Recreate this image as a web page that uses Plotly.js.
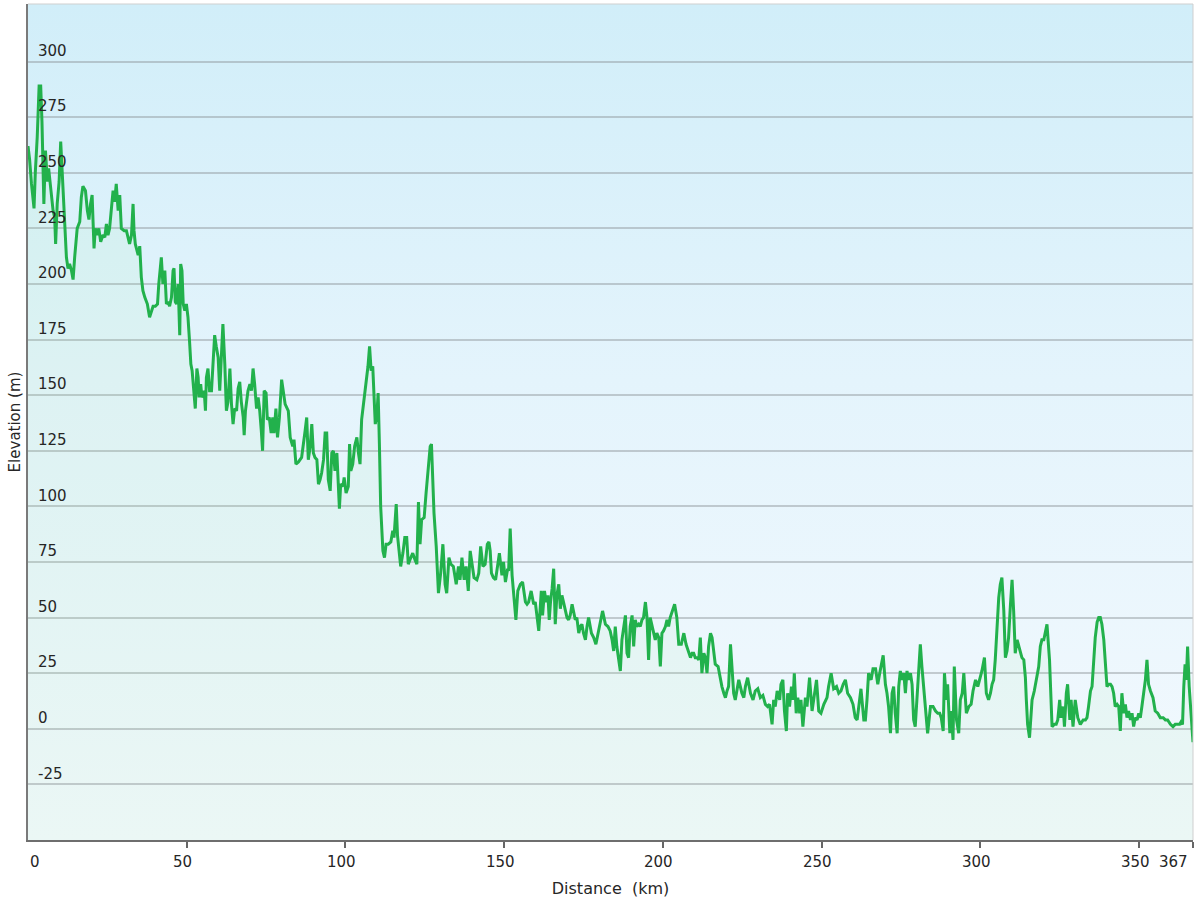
<!DOCTYPE html>
<html>
<head>
<meta charset="utf-8">
<script src="https://cdn.plot.ly/plotly-3.0.1.min.js"></script>
<style>
  html, body { margin: 0; padding: 0; background: #ffffff; }
  #wrap { position: relative; width: 1200px; height: 900px; }
  #bg { position: absolute; left: 28px; top: 4px; width: 1165px; height: 836px;
        background: linear-gradient(to bottom, #d1eef9 0%, #e4f4fc 45%, #f3f9fe 100%); }
  #chart { position: absolute; left: 0; top: 0; width: 1200px; height: 900px; }
</style>
</head>
<body>
<div id="wrap"><div id="bg"></div><div id="chart"></div></div>
<script>
// ---- data ----
const distanceKm = [
0,0.5,1.1,1.9,2.3,2.9,3.5,4.0,4.4,4.7,5.0,5.5,6.1,6.5,7.1,7.9,8.4,8.7,9.2,9.8,10.3,10.7,11.1,11.6,12.1,12.6,13.1,13.7,14.2,14.7,15.5,16.3,16.8,17.3,18.1,18.7,19.2,19.7,20.2,20.5,20.8,21.2,21.7,22.3,22.9,23.6,24.2,24.7,25.2,25.7,26.3,26.8,27.3,27.8,28.4,28.9,29.4,30.3,31.0,31.5,32.0,32.6,33.1,33.4,33.8,34.7,35.2,35.7,36.2,36.8,37.6,38.3,38.9,39.4,40.1,40.8,41.2,41.6,42.0,42.5,43.1,43.6,44.1,44.6,45.2,45.7,46.0,46.4,46.8,47.3,47.8,48.1,48.5,48.9,49.4,49.9,50.4,50.9,51.3,51.7,52.3,52.7,53.2,53.6,53.9,54.4,54.8,55.5,55.9,56.2,56.7,57.2,57.8,58.3,58.8,59.3,59.9,60.4,60.9,61.4,62.0,62.5,63.0,63.6,64.1,64.6,65.1,65.7,66.2,66.7,67.2,67.8,68.1,68.5,69.3,69.9,70.4,70.9,71.4,72.0,72.5,73.0,73.5,73.9,74.4,75.0,75.4,76.0,76.6,77.1,77.5,78.1,78.6,79.2,79.9,80.5,81.0,82.0,82.6,83.4,83.8,84.4,85.2,86.2,86.8,87.3,87.8,88.3,88.9,89.4,89.9,90.4,91.0,91.5,92.0,92.5,93.1,93.6,94.1,94.6,95.2,95.7,96.2,96.7,97.3,97.8,98.1,98.5,99.2,99.6,100.2,100.9,101.3,101.7,102.3,102.9,103.6,104.1,104.6,105.1,105.7,106.5,107.1,107.6,108.1,108.6,109.0,109.4,109.9,110.3,110.7,111.1,111.8,112.3,112.8,113.5,114.3,114.9,115.3,116.0,116.4,117.0,117.4,118.1,118.7,119.3,119.8,120.6,121.2,121.9,122.5,123.0,123.5,124.0,124.8,125.4,126.0,126.7,127.1,127.5,127.9,128.6,129.3,130.0,130.7,131.4,131.9,132.6,133.2,134.0,134.9,135.6,136.1,136.7,137.4,138.0,138.7,139.3,139.9,140.5,141.4,142.0,142.6,143.3,144.0,144.7,145.2,145.6,146.0,146.6,147.3,147.9,148.5,149.3,149.8,150.4,151.1,151.4,151.9,152.5,153.0,153.7,154.3,155.1,155.8,156.7,157.2,157.7,158.5,159.3,159.8,160.3,160.9,161.7,162.1,162.7,163.2,163.8,164.2,164.6,165.1,165.6,166.1,166.6,167.2,167.7,168.2,168.7,169.3,169.8,170.3,170.8,171.4,171.9,172.4,172.9,173.5,174.0,174.5,175.0,175.6,176.1,176.6,177.5,178.2,178.9,179.6,180.3,181.0,181.9,182.7,183.4,184.0,184.5,185.0,185.5,186.1,186.6,187.1,187.6,188.2,188.7,189.2,189.7,190.3,190.8,191.3,191.8,192.4,192.9,193.4,193.9,194.5,195.0,195.5,196.0,196.6,197.1,197.6,198.1,198.7,199.2,199.7,200.2,200.8,201.3,201.8,202.3,202.9,203.7,204.4,205.0,205.8,206.6,207.3,207.9,208.7,209.2,209.7,210.2,210.8,211.3,211.8,212.3,212.9,213.4,213.9,214.4,215.0,215.5,216.0,216.5,217.4,218.1,218.6,219.2,219.7,220.2,220.7,221.3,221.8,222.3,222.8,223.9,224.9,225.5,226.0,226.7,227.6,228.4,229.1,229.9,230.7,231.5,232.3,233.0,233.6,234.4,234.9,235.4,236.0,236.8,237.2,237.8,238.3,238.9,239.3,239.9,240.5,241.0,241.4,242.0,242.5,243.1,243.5,244.1,244.9,245.4,246.2,247.0,247.5,248.4,249.1,249.8,250.7,251.2,251.7,252.2,253.0,253.8,254.7,255.4,256.1,256.8,257.5,258.2,259.1,259.9,260.6,261.2,261.7,262.4,263.3,263.8,264.3,264.8,265.6,266.2,267.0,267.7,268.3,268.7,269.4,270.1,270.6,271.1,271.7,272.2,272.7,273.2,273.8,274.3,274.8,275.3,275.9,276.4,276.9,277.4,278.0,278.5,279.0,279.5,280.1,280.6,281.1,281.6,282.2,282.7,283.4,284.3,285.1,285.9,286.6,287.2,287.7,288.3,288.7,289.3,289.7,290.4,290.8,291.4,291.8,292.5,293.2,293.7,294.3,294.8,295.6,296.4,297.1,297.7,298.5,299.2,299.8,300.5,301.3,301.9,302.6,303.2,303.7,304.2,304.7,305.3,305.8,306.3,306.8,307.4,307.9,308.4,308.9,309.5,310.0,310.5,311.0,311.6,312.4,313.1,313.7,314.2,314.5,314.9,315.5,316.3,317.0,317.6,318.4,318.9,319.4,320.0,320.5,321.0,321.8,322.6,323.3,323.9,324.4,325.0,325.4,326.1,326.5,327.1,327.5,328.2,328.6,329.2,329.9,330.7,331.5,332.4,333.1,333.6,334.1,334.7,335.2,335.7,336.2,336.8,337.3,337.8,338.3,338.9,339.4,339.9,340.4,341.0,341.5,342.0,342.5,343.1,343.6,344.1,344.6,345.2,345.7,346.2,346.7,347.3,347.8,348.3,348.8,349.4,349.9,350.4,350.9,351.5,352.0,352.5,353.0,353.6,354.4,355.1,355.9,356.7,357.6,358.3,359.0,359.9,360.7,361.4,362.2,362.8,363.2,363.7,364.1,364.5,364.9,365.3,365.8,366.2,366.6,367.0
];
const elevationM = [
262,256,245,234,250,266,289,289,273,250,236,260,246,252,243,233,230,218,236,246,264,253,236,224,212,207,209,206,202,212,225,228,239,244,242,233,229,236,240,228,216,225,222,225,219,222,221,227,222,225,236,242,237,245,233,240,225,224,224,221,218,222,236,224,218,213,217,203,197,194,191,185,188,190,190,191,200,206,212,200,206,191,192,190,194,206,207,192,191,200,177,209,206,191,188,191,185,174,164,161,152,144,162,158,149,155,149,152,143,158,162,152,152,167,177,172,167,152,167,182,164,143,147,162,146,137,144,143,153,156,147,140,132,143,152,155,152,162,155,144,149,143,134,125,152,151,139,140,133,140,133,144,131,140,157,151,146,143,131,127,130,119,120,122,130,134,140,121,127,137,124,122,121,110,112,115,121,133,133,112,107,124,125,116,124,106,99,110,109,113,106,109,128,116,119,127,131,124,119,139,146,154,163,172,161,163,146,137,141,151,128,100,80,77,83,83,84,89,86,101,87,80,73,79,86,86,74,77,79,76,74,102,83,94,95,106,116,127,128,115,97,82,61,70,83,65,61,77,74,73,65,73,67,77,67,73,62,80,73,68,67,70,82,73,74,83,84,80,70,68,67,74,79,69,75,66,72,71,90,69,60,49,62,65,66,57,56,57,62,56,57,51,44,62,51,62,57,60,49,57,63,72,47,60,65,54,60,57,53,50,49,51,56,53,49,50,43,46,47,43,40,46,50,43,41,38,43,47,53,47,46,44,40,35,46,37,31,26,40,46,51,34,32,46,51,37,49,46,47,46,49,50,57,50,31,50,46,43,40,43,41,28,43,44,46,49,46,50,53,56,50,38,38,43,38,35,32,34,34,32,32,31,41,25,34,32,25,37,43,41,34,29,28,22,19,16,14,17,19,38,25,16,13,22,16,14,19,23,16,13,17,18,14,15,11,10,11,2,13,10,17,13,20,22,8,-1,16,10,19,13,25,7,14,7,13,1,14,10,23,8,13,22,8,7,11,13,14,19,25,18,19,16,17,20,22,16,14,11,5,4,11,18,4,4,13,25,22,27,27,20,25,28,33,20,16,10,-2,16,19,7,-2,19,26,22,25,16,26,22,25,20,4,1,14,23,38,28,19,11,-2,10,10,8,7,7,5,-1,25,13,20,-2,8,-5,28,4,-2,13,16,25,7,10,11,17,22,19,22,26,32,16,13,16,20,22,31,46,59,65,68,53,32,35,41,56,67,53,34,40,35,32,31,23,13,2,-4,13,17,22,28,37,40,40,44,47,31,1,2,2,4,13,5,10,1,16,20,4,13,1,13,5,2,4,4,5,10,17,19,31,41,48,50,50,47,40,31,19,20,20,19,16,10,11,10,-1,16,7,11,5,8,4,7,1,5,4,7,5,10,16,22,31,20,17,14,8,7,5,5,4,4,2,1,2,2,2,3,2,19,29,22,37,19,10,-2,-6,13,23
];
const xTickVals = [0, 50, 100, 150, 200, 250, 300, 350, 367];
const xTickText = ['0', '50', '100', '150', '200', '250', '300', '350', '367'];
const yTickVals = [-25, 0, 25, 50, 75, 100, 125, 150, 175, 200, 225, 250, 275, 300];
const yTickText = ['-25', '0', '25', '50', '75', '100', '125', '150', '175', '200', '225', '250', '275', '300'];
const yRange = [-50, 325.9];
const xRange = [0, 367];

const font = "DejaVu Sans, Verdana, sans-serif";
const textColor = '#262626';

const trace = {
  type: 'scatter', mode: 'lines',
  x: distanceKm, y: elevationM,
  line: { color: '#22b14c', width: 3 },
  fill: 'tozeroy', fillcolor: 'rgba(140,235,140,0.08)',
  hoverinfo: 'x+y'
};

const xAnn = xTickVals.map((v, i) => ({
  x: v, xref: 'x', y: 0, yref: 'paper', yanchor: 'top', yshift: -11,
  xanchor: i === 0 ? 'left' : (i === xTickVals.length - 1 ? 'right' : 'center'),
  xshift: i === 0 ? 0 : (i === xTickVals.length - 1 ? -3 : -4),
  text: xTickText[i], showarrow: false,
  font: { family: font, size: 15, color: textColor }
}));

const layout = {
  width: 1200, height: 900,
  margin: { l: 28, r: 7, t: 4, b: 60 },
  paper_bgcolor: 'rgba(0,0,0,0)',
  plot_bgcolor: 'rgba(0,0,0,0)',
  showlegend: false,
  font: { family: font, size: 15, color: textColor },
  xaxis: {
    range: xRange, tickmode: 'array', tickvals: xTickVals, ticktext: xTickText,
    showticklabels: false, ticks: 'outside', ticklen: 6, tickwidth: 2, tickcolor: '#666',
    showgrid: false, zeroline: false,
    showline: true, linecolor: '#6e6e6e', linewidth: 2,
    title: { text: 'Distance\u00a0\u00a0(km)', font: { family: font, size: 16, color: textColor }, standoff: 36 }
  },
  yaxis: {
    range: yRange, tickmode: 'array', tickvals: yTickVals, ticktext: yTickText,
    ticklabelposition: 'inside', ticklabelshift: -11, ticklabelstandoff: 10,
    ticks: '', showgrid: true, gridcolor: 'rgba(140,146,150,0.45)', gridwidth: 2,
    zeroline: false, showline: true, linecolor: '#7a7a7a', linewidth: 2,
    tickfont: { family: font, size: 15, color: textColor },
    title: { text: 'Elevation (m)', font: { family: font, size: 15, color: textColor }, standoff: 14 }
  },
  shapes: [
    { type: 'rect', xref: 'paper', x0: 0, x1: 1, yref: 'y', y0: yRange[0], y1: 0,
      fillcolor: 'rgba(140,235,140,0.08)', line: { width: 0 }, layer: 'below' },
    { type: 'line', xref: 'paper', yref: 'paper', x0: 0, x1: 1, y0: 1, y1: 1, line: { color: '#cfcfcf', width: 1 } },
    { type: 'line', xref: 'paper', yref: 'paper', x0: 1, x1: 1, y0: 0, y1: 1, line: { color: '#cfcfcf', width: 1 } }
  ],
  annotations: xAnn
};

Plotly.newPlot('chart', [trace], layout, { displayModeBar: false, staticPlot: true });
</script>
</body>
</html>
